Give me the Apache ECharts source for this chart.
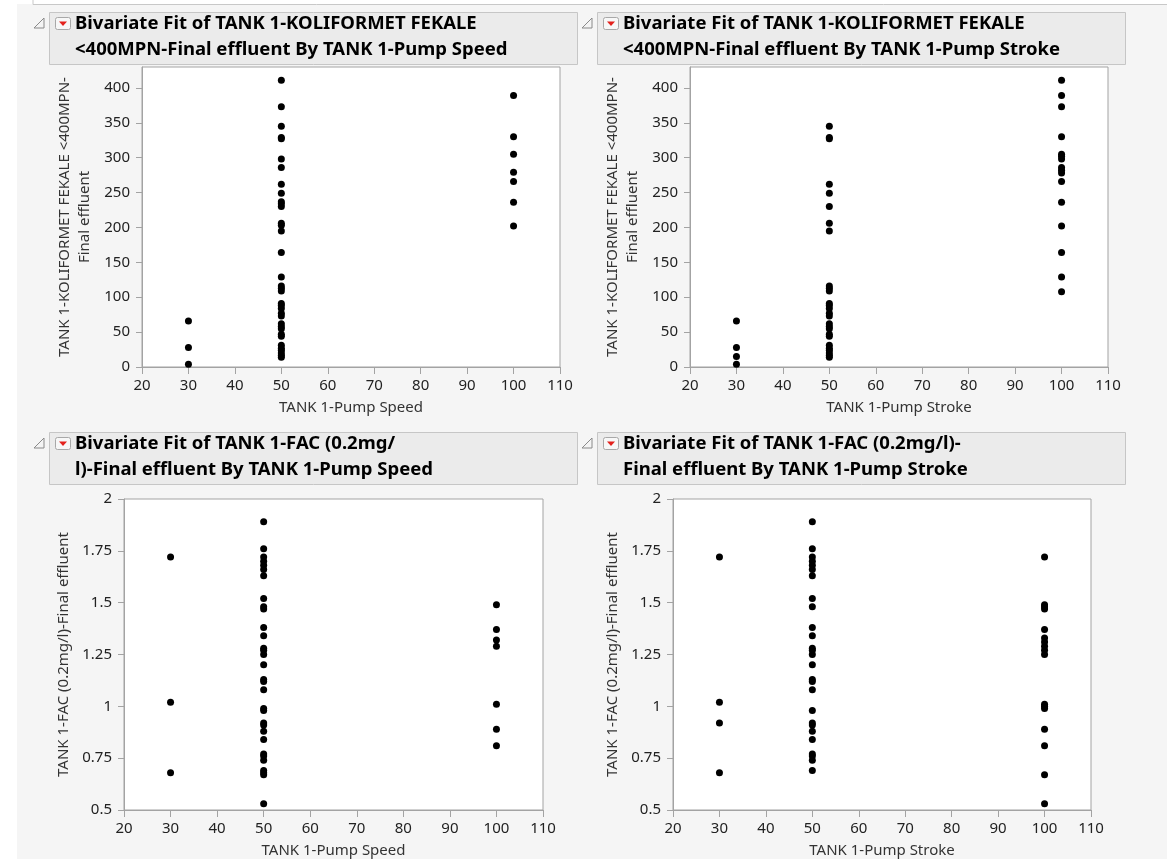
<!DOCTYPE html>
<html>
<head>
<meta charset="utf-8">
<script src="https://cdn.jsdelivr.net/npm/echarts@6/dist/echarts.min.js"></script>
<style>
  html, body { margin: 0; padding: 0; background: #fff; }
  #chart { width: 1167px; height: 859px; }
</style>
</head>
<body>
<div id="chart"></div>
<script>
// pump settings (x groups)
const pumpLevels = [30, 50, 100]

// KOLIFORMET FEKALE <400MPN by pump speed
const coliSpeed30 = [66, 28, 4]
const coliSpeed50 = [411, 373, 345, 329, 327, 298, 286, 262, 249, 237, 234, 230, 206, 203, 195, 164,
  129, 116, 113, 109, 91, 88, 84, 77, 73, 62, 58, 55, 47, 44, 31, 27, 24, 20, 17, 14]
const coliSpeed100 = [389, 330, 305, 279, 266, 236, 202]

// KOLIFORMET FEKALE <400MPN by pump stroke
const coliStroke30 = [66, 28, 15, 4]
const coliStroke50 = [345, 329, 327, 262, 249, 230, 206, 195, 116, 113, 109, 91, 88, 84, 77, 73,
  62, 58, 55, 47, 44, 31, 27, 24, 20, 17, 14]
const coliStroke100 = [411, 389, 373, 330, 305, 302, 298, 286, 282, 278, 266, 236, 202, 164, 129, 108]

// FAC (0.2mg/l) by pump speed
const facSpeed30 = [1.72, 1.02, 0.68]
const facSpeed50 = [1.89, 1.76, 1.72, 1.70, 1.68, 1.66, 1.63, 1.52, 1.48, 1.47, 1.38, 1.34, 1.28, 1.27,
  1.25, 1.20, 1.13, 1.12, 1.08, 0.99, 0.98, 0.92, 0.91, 0.88, 0.84, 0.77, 0.76, 0.74, 0.69, 0.68, 0.67, 0.53]
const facSpeed100 = [1.49, 1.37, 1.32, 1.29, 1.01, 0.89, 0.81]

// FAC (0.2mg/l) by pump stroke
const facStroke30 = [1.72, 1.02, 0.92, 0.68]
const facStroke50 = [1.89, 1.76, 1.72, 1.70, 1.68, 1.66, 1.63, 1.52, 1.48, 1.38, 1.34, 1.28, 1.27, 1.25,
  1.20, 1.13, 1.12, 1.08, 0.98, 0.92, 0.91, 0.88, 0.84, 0.77, 0.76, 0.74, 0.69]
const facStroke100 = [1.72, 1.49, 1.48, 1.47, 1.37, 1.33, 1.31, 1.29, 1.27, 1.25, 1.01, 1.00, 0.99,
  0.89, 0.81, 0.67, 0.53]

// tick labels
const pumpTicks = [20, 30, 40, 50, 60, 70, 80, 90, 100, 110]
const coliTicks = [0, 50, 100, 150, 200, 250, 300, 350, 400]
const facTicks = [0.5, 0.75, 1, 1.25, 1.5, 1.75, 2]

const titleLines = [
  ['Bivariate Fit of TANK 1-KOLIFORMET FEKALE', '<400MPN-Final effluent By TANK 1-Pump Speed'],
  ['Bivariate Fit of TANK 1-KOLIFORMET FEKALE', '<400MPN-Final effluent By TANK 1-Pump Stroke'],
  ['Bivariate Fit of TANK 1-FAC (0.2mg/', 'l)-Final effluent By TANK 1-Pump Speed'],
  ['Bivariate Fit of TANK 1-FAC (0.2mg/l)-', 'Final effluent By TANK 1-Pump Stroke']
]
const xNames = ['TANK 1-Pump Speed', 'TANK 1-Pump Stroke', 'TANK 1-Pump Speed', 'TANK 1-Pump Stroke']
const yNames = [
  'TANK 1-KOLIFORMET FEKALE <400MPN-\nFinal effluent',
  'TANK 1-KOLIFORMET FEKALE <400MPN-\nFinal effluent',
  'TANK 1-FAC (0.2mg/l)-Final effluent',
  'TANK 1-FAC (0.2mg/l)-Final effluent'
]

const FONT = '"Noto Sans", "DejaVu Sans", sans-serif'
const AXIS_GRAY = '#a3a3a3'

function pairs(groups) {
  let out = []
  groups.forEach((vals, i) => {
    vals.forEach(v => out.push([pumpLevels[i], v]))
  })
  return out
}

const plotData = [
  pairs([coliSpeed30, coliSpeed50, coliSpeed100]),
  pairs([coliStroke30, coliStroke50, coliStroke100]),
  pairs([facSpeed30, facSpeed50, facSpeed100]),
  pairs([facStroke30, facStroke50, facStroke100])
]

const grids = [
  { left: 142, top: 67, width: 418, height: 300 },
  { left: 690, top: 67, width: 418, height: 300 },
  { left: 124, top: 499, width: 419, height: 314 },
  { left: 673, top: 499, width: 418, height: 314 }
]
const headerBoxes = [
  { x: 49, y: 12 }, { x: 597, y: 12 }, { x: 49, y: 432 }, { x: 597, y: 432 }
]

let myChart = echarts.init(document.getElementById('chart'))

let graphics = [
  {
    type: 'rect', silent: true, z: -10,
    shape: { x: 17, y: 4, width: 1150, height: 855 },
    style: { fill: '#f5f5f5' }
  },
  {
    type: 'polyline', silent: true,
    shape: { points: [[33, 0], [33, 4.5], [1167, 4.5]] },
    style: { stroke: '#c8c8c8', lineWidth: 1, fill: null }
  }
]

headerBoxes.forEach((b, i) => {
  graphics.push({
    type: 'rect', silent: true,
    shape: { x: b.x + 0.5, y: b.y + 0.5, width: 528, height: 52 },
    style: { fill: '#ebebeb', stroke: '#c6c6c6', lineWidth: 1 }
  })
  // disclosure triangle
  graphics.push({
    type: 'polygon', silent: true,
    shape: { points: [[b.x - 15, b.y + 16], [b.x - 5, b.y + 6], [b.x - 5, b.y + 16]] },
    style: { fill: '#f4f4f4', stroke: '#8a8a8a', lineWidth: 1 }
  })
  // red popup button
  graphics.push({
    type: 'rect', silent: true,
    shape: { x: b.x + 6.5, y: b.y + 5.5, width: 15, height: 12, r: 2 },
    style: { fill: '#f7f7f7', stroke: '#a8a8a8', lineWidth: 1 }
  })
  graphics.push({
    type: 'polygon', silent: true,
    shape: { points: [[b.x + 10, b.y + 9.5], [b.x + 18, b.y + 9.5], [b.x + 14, b.y + 14]] },
    style: { fill: '#e3211c' }
  })
  titleLines[i].forEach((line, k) => {
    graphics.push({
      type: 'text', silent: true,
      x: b.x + 26, y: b.y + 12 + k * 26,
      style: {
        text: line, fill: '#000', font: 'bold 18.5px ' + FONT,
        textAlign: 'left', textVerticalAlign: 'middle'
      }
    })
  })
})

let option = {
  backgroundColor: '#ffffff',
  animation: false,
  textStyle: { fontFamily: FONT },
  graphic: graphics,
  grid: grids.map(g => ({
    left: g.left, top: g.top, width: g.width, height: g.height,
    show: true, backgroundColor: '#ffffff', borderColor: AXIS_GRAY, borderWidth: 1,
    containLabel: false
  })),
  xAxis: grids.map((g, i) => ({
    gridIndex: i,
    type: 'value',
    min: 20,
    max: 110,
    interval: 10,
    name: xNames[i],
    nameLocation: 'middle',
    nameGap: 33,
    nameTextStyle: { color: '#333', fontSize: 15, fontFamily: FONT },
    axisLine: { show: true, onZero: false, lineStyle: { color: AXIS_GRAY } },
    axisTick: { show: true, length: 7, customValues: pumpTicks, lineStyle: { color: AXIS_GRAY } },
    axisLabel: { color: '#222', fontSize: 15, margin: 11, fontFamily: FONT, customValues: pumpTicks },
    splitLine: { show: false }
  })),
  yAxis: grids.map((g, i) => ({
    gridIndex: i,
    type: 'value',
    min: i < 2 ? 0 : 0.5,
    max: i < 2 ? 430 : 2,
    interval: i < 2 ? 50 : 0.25,
    name: yNames[i],
    nameLocation: 'middle',
    nameRotate: 90,
    nameGap: i < 2 ? 47 : 50,
    nameTextStyle: { color: '#333', fontSize: 15, fontFamily: FONT, lineHeight: 20, align: 'center' },
    axisLine: { show: true, onZero: false, lineStyle: { color: AXIS_GRAY } },
    axisTick: {
      show: true, length: 6, lineStyle: { color: AXIS_GRAY },
      customValues: i < 2 ? coliTicks : facTicks
    },
    axisLabel: {
      color: '#222', fontSize: 15, margin: 12, fontFamily: FONT,
      customValues: i < 2 ? coliTicks : facTicks
    },
    splitLine: { show: false }
  })),
  series: plotData.map((d, i) => ({
    type: 'scatter',
    xAxisIndex: i,
    yAxisIndex: i,
    symbol: 'circle',
    symbolSize: 7,
    silent: true,
    itemStyle: { color: '#000', opacity: 1 },
    data: d
  }))
}

myChart.setOption(option)
</script>
</body>
</html>
